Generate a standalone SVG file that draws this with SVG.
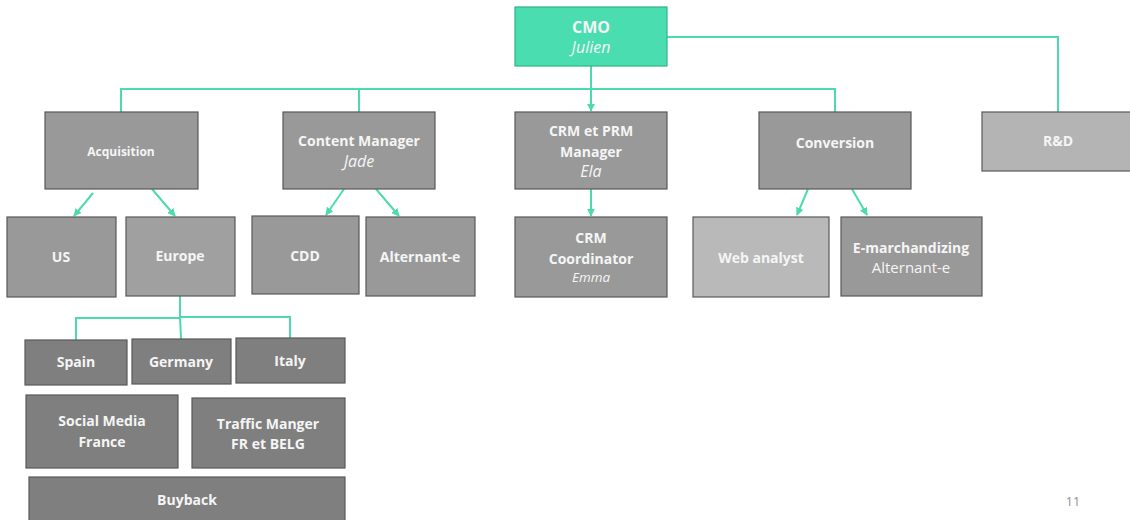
<svg xmlns="http://www.w3.org/2000/svg" width="1130" height="520" viewBox="0 0 1130 520">
<defs>
<marker id="ah" viewBox="0 0 10 10" refX="9" refY="5" markerWidth="4" markerHeight="4" orient="auto" markerUnits="strokeWidth">
<path d="M0,0 L10,5 L0,10 z" fill="#4CDBAE"/>
</marker>
<style>
.box{stroke:#595959;stroke-width:1.2}
.mid{fill:#999999}
.lite{fill:#b9b9b9}
.rd{fill:#b4b4b4}
.dark{fill:#7f7f7f}
.cmo{fill:#4ADDAF;stroke:#2FB583;stroke-width:1.2}
text{font-family:"Open Sans","Noto Sans","Liberation Sans",sans-serif;fill:#f5f5f5;text-anchor:middle}
.b{font-weight:bold;font-size:14px}
.i{font-style:italic;font-size:16px}
.r{font-size:15px}
.c{stroke:#4CDBAE;stroke-width:2;fill:none}
.a{stroke:#4CDBAE;stroke-width:2;fill:none;marker-end:url(#ah)}
</style>
</defs>
<rect width="1130" height="520" fill="#ffffff"/>
<g id="connectors">
<path class="c" d="M591,66 V89 M121,112 V89 H835 V112 M359,89 V112"/>
<path class="a" d="M591,89 V111"/>
<path class="c" d="M667,37 H1058 V112"/>
<path class="a" d="M93,193 L74,216"/>
<path class="a" d="M152,189 L175,216"/>
<path class="a" d="M344,189 L326,215"/>
<path class="a" d="M376,189 L399,216"/>
<path class="a" d="M591,189 V216"/>
<path class="a" d="M808,189 L797,215"/>
<path class="a" d="M852,189 L867,215"/>
<path class="c" d="M180,296 V318 H76 V340 M180,317 H290 V338 M180,317 L181,339"/>
</g>
<g id="cmo"><rect class="cmo" x="515" y="7" width="152" height="59"/><text class="b" x="591" y="33" style="font-size:16px">CMO</text><text class="i" x="591" y="53">Julien</text></g>
<g id="acquisition"><rect class="box mid" x="45" y="112" width="153" height="77"/><text class="b" x="121" y="156" style="font-size:12px">Acquisition</text></g>
<g id="content"><rect class="box mid" x="283" y="112" width="152" height="77"/><text class="b" x="359" y="146">Content Manager</text><text class="i" x="359" y="167">Jade</text></g>
<g id="crmprm"><rect class="box mid" x="515" y="112" width="152" height="77"/><text class="b" x="591" y="136">CRM et PRM</text><text class="b" x="591" y="157">Manager</text><text class="i" x="591" y="177">Ela</text></g>
<g id="conversion"><rect class="box mid" x="759" y="112" width="152" height="77"/><text class="b" x="835" y="148">Conversion</text></g>
<g id="rd"><rect class="box rd" x="982" y="112" width="150" height="59"/><text class="b" x="1058" y="146">R&amp;D</text></g>
<g id="us"><rect class="box mid" x="7" y="217" width="109" height="80"/><text class="b" x="61" y="262">US</text></g>
<g id="europe"><rect class="box" style="fill:#a0a0a0" x="126" y="217" width="109" height="79"/><text class="b" x="180" y="261">Europe</text></g>
<g id="cdd"><rect class="box mid" x="252" y="216" width="107" height="78"/><text class="b" x="305" y="261">CDD</text></g>
<g id="alternant"><rect class="box mid" x="366" y="217" width="109" height="79"/><text class="b" x="420" y="262">Alternant-e</text></g>
<g id="crmcoord"><rect class="box mid" x="515" y="217" width="152" height="80"/><text class="b" x="591" y="243">CRM</text><text class="b" x="591" y="264">Coordinator</text><text class="i" x="591" y="282" style="font-size:13.5px">Emma</text></g>
<g id="webanalyst"><rect class="box lite" x="693" y="217" width="136" height="80"/><text class="b" x="761" y="263">Web analyst</text></g>
<g id="emarch"><rect class="box mid" x="841" y="217" width="141" height="79"/><text class="b" x="911" y="253">E-marchandizing</text><text class="r" x="911" y="273">Alternant-e</text></g>
<g id="spain"><rect class="box dark" x="25" y="340" width="102" height="45"/><text class="b" x="76" y="367">Spain</text></g>
<g id="germany"><rect class="box dark" x="132" y="339" width="99" height="45"/><text class="b" x="181" y="367">Germany</text></g>
<g id="italy"><rect class="box dark" x="236" y="338" width="109" height="45"/><text class="b" x="290" y="366">Italy</text></g>
<g id="social"><rect class="box dark" x="26" y="395" width="152" height="73"/><text class="b" x="102" y="426">Social Media</text><text class="b" x="102" y="447">France</text></g>
<g id="traffic"><rect class="box dark" x="192" y="398" width="153" height="70"/><text class="b" x="268" y="429">Traffic Manger</text><text class="b" x="268" y="449">FR et BELG</text></g>
<g id="buyback"><rect class="box dark" x="29" y="477" width="316" height="46"/><text class="b" x="187" y="505">Buyback</text></g>
<text x="1073" y="506" style="font-size:12.5px;fill:#8c8c8c">11</text>
</svg>
